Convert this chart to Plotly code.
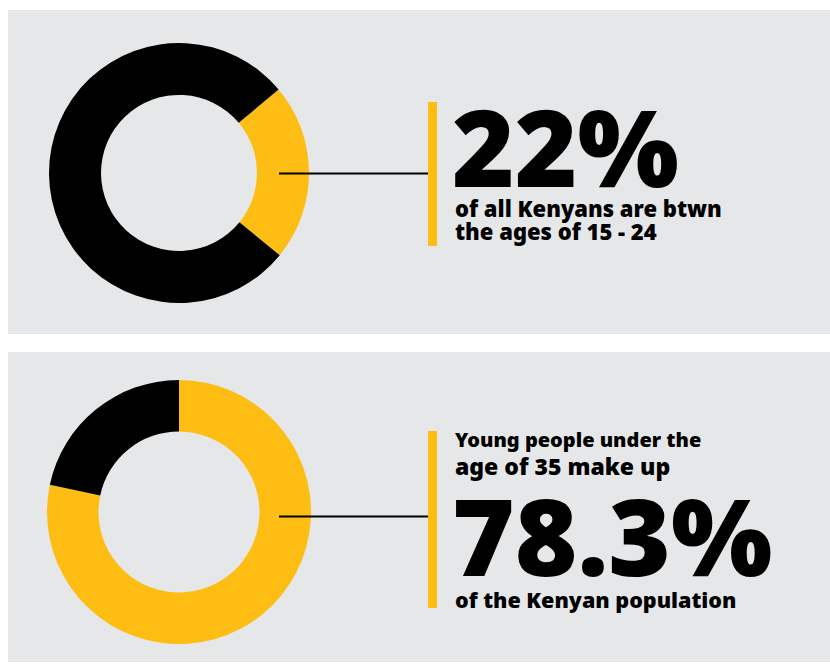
import plotly.graph_objects as go

W, H = 830, 668

# ---- data ----
top_labels = ["Ages 15 - 24", "Other ages"]
top_values = [22, 78]
bottom_labels = ["Under 35", "35 and over"]
bottom_values = [78.3, 21.7]

top_big = "22%"
top_caption = ["of all Kenyans are btwn", "the ages of 15 - 24"]
bottom_intro = ["Young people under the", "age of 35 make up"]
bottom_big = "78.3%"
bottom_caption = "of the Kenyan population"

YELLOW = "#fdbd13"
BLACK = "#000000"
PANEL = "#e6e7e8"
FONT = "Noto Sans"


def px(x):
    return x / W


def py(y):
    return 1 - y / H


fig = go.Figure()

fig.add_trace(go.Pie(
    labels=top_labels, values=top_values, hole=0.6, sort=False,
    direction="clockwise", rotation=50,
    marker=dict(colors=[YELLOW, BLACK], line=dict(width=0)),
    textinfo="none", hoverinfo="skip", showlegend=False,
    domain=dict(x=[px(49), px(309)], y=[py(303), py(43)]),
))
fig.add_trace(go.Pie(
    labels=bottom_labels, values=bottom_values, hole=0.61, sort=False,
    direction="clockwise", rotation=0,
    marker=dict(colors=[YELLOW, BLACK], line=dict(width=0)),
    textinfo="none", hoverinfo="skip", showlegend=False,
    domain=dict(x=[px(47), px(311)], y=[py(644), py(380)]),
))

shapes = [
    dict(type="rect", xref="paper", yref="paper", x0=px(8), x1=px(830), y0=py(334), y1=py(10),
         fillcolor=PANEL, line=dict(width=0), layer="below"),
    dict(type="rect", xref="paper", yref="paper", x0=px(8), x1=px(830), y0=py(662), y1=py(352),
         fillcolor=PANEL, line=dict(width=0), layer="below"),
    dict(type="line", xref="paper", yref="paper", x0=px(279), x1=px(428), y0=py(173.5), y1=py(173.5),
         line=dict(color=BLACK, width=2), layer="above"),
    dict(type="line", xref="paper", yref="paper", x0=px(279), x1=px(428), y0=py(516.5), y1=py(516.5),
         line=dict(color=BLACK, width=2), layer="above"),
    dict(type="rect", xref="paper", yref="paper", x0=px(428), x1=px(437), y0=py(246), y1=py(102),
         fillcolor=YELLOW, line=dict(width=0), layer="above"),
    dict(type="rect", xref="paper", yref="paper", x0=px(428), x1=px(437), y0=py(608), y1=py(431),
         fillcolor=YELLOW, line=dict(width=0), layer="above"),
]


def ann(text, x, y, size):
    return dict(text=text, xref="paper", yref="paper", x=px(x), y=py(y),
                xanchor="left", yanchor="middle", align="left", showarrow=False,
                font=dict(family=FONT, size=size, color=BLACK, weight=900))


annotations = [
    ann(top_big, 450, 145.5, 107),
    ann(top_caption[0], 453, 207.5, 22),
    ann(top_caption[1], 453, 231, 22),
    ann(bottom_intro[0], 453, 439.5, 20),
    ann(bottom_intro[1], 453, 465.5, 23),
    ann(bottom_big, 450, 534, 107),
    ann(bottom_caption, 453, 599.5, 21.5),
]

fig.update_layout(
    width=W, height=H, margin=dict(l=0, r=0, t=0, b=0),
    paper_bgcolor="white", plot_bgcolor="white",
    shapes=shapes, annotations=annotations,
)

fig.write_html("out.html")
